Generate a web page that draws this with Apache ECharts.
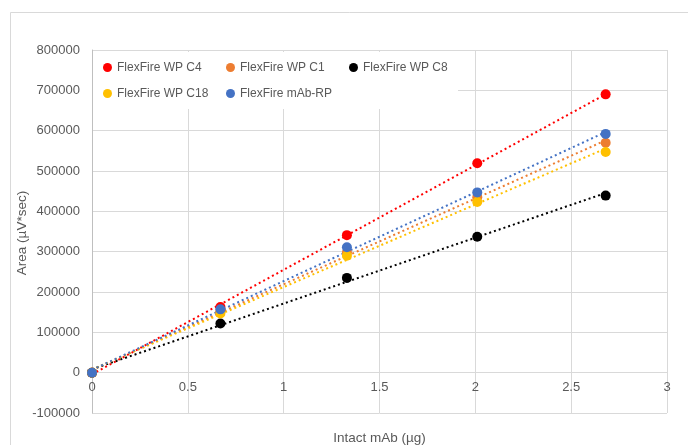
<!DOCTYPE html>
<html>
<head>
<meta charset="utf-8">
<script src="https://cdn.jsdelivr.net/npm/echarts@6/dist/echarts.min.js"></script>
<style>html,body{margin:0;padding:0;background:#fff}#c{width:688px;height:445px}</style>
</head>
<body>
<div id="c"></div>
<script>
const xValues = [0, 0.67, 1.33, 2.01, 2.68];
const seriesNames = ['FlexFire WP C4', 'FlexFire WP C1', 'FlexFire WP C8', 'FlexFire WP C18', 'FlexFire mAb-RP'];
const c4 = [0, 163000, 341000, 519000, 690000];
const c1 = [0, 152000, 298000, 435000, 570000];
const c8 = [0, 122000, 235000, 337000, 439000];
const c18 = [0, 147000, 290000, 423000, 547000];
const mabRP = [0, 157000, 311000, 447000, 592000];
const colors = ['#FF0000', '#ED7D31', '#000000', '#FFC000', '#4472C4'];
const yTicks = [-100000, 800000, 100000];
const xTicks = [0, 3, 0.5];
const xTitle = 'Intact mAb (µg)';
const yTitle = 'Area (µV*sec)';

const allValues = [c4, c1, c8, c18, mabRP];
const font = 'Liberation Sans';

const gridTop = 50, gridBottom = 32, H = 445;
const plotH = H - gridTop - gridBottom;
// shift the x axis up from the grid bottom to the y = 0 line
const xAxisOffset = -plotH * (0 - yTicks[0]) / (yTicks[1] - yTicks[0]);

function fit(xs, ys) {
  const n = xs.length;
  let sx = 0, sy = 0, sxx = 0, sxy = 0;
  for (let i = 0; i < n; i++) { sx += xs[i]; sy += ys[i]; sxx += xs[i]*xs[i]; sxy += xs[i]*ys[i]; }
  const b = (n*sxy - sx*sy) / (n*sxx - sx*sx);
  const a = (sy - b*sx) / n;
  return [a, b];
}

const series = [];
allValues.forEach((vals, i) => {
  const [a, b] = fit(xValues, vals);
  const x0 = xValues[0], x1 = xValues[xValues.length - 1];
  series.push({
    name: seriesNames[i] + ' trend',
    type: 'line',
    data: [[x0, a + b*x0], [x1, a + b*x1]],
    symbol: 'none',
    silent: true,
    z: 1,
    lineStyle: { color: colors[i], width: 2, type: [2, 3] }
  });
});
allValues.forEach((vals, i) => {
  series.push({
    name: seriesNames[i],
    type: 'scatter',
    data: xValues.map((x, j) => [x, vals[j]]),
    symbol: 'circle',
    symbolSize: 10,
    z: 3 + i,
    itemStyle: { color: colors[i], opacity: 1 }
  });
});

const legendData = seriesNames.map((n, i) => i === 2 ? { name: n, textStyle: { width: 85 } } : { name: n });

const chart = echarts.init(document.getElementById('c'), null, { renderer: 'canvas' });
chart.setOption({
  animation: false,
  backgroundColor: '#fff',
  graphic: [{
    type: 'rect',
    shape: { x: 10.5, y: 12.5, width: 700, height: 450 },
    style: { fill: 'none', stroke: '#d9d9d9', lineWidth: 1 },
    silent: true, z: -1
  }, {
    type: 'text',
    x: 22, y: 233,
    rotation: Math.PI / 2,
    style: { text: yTitle, fontFamily: font, fontSize: 13.5, fill: '#595959', align: 'center', verticalAlign: 'middle' },
    silent: true
  }],
  grid: { left: 92, right: 21, top: gridTop, bottom: gridBottom, containLabel: false, outerBoundsMode: 'none' },
  legend: {
    data: legendData,
    left: 93, top: 52,
    width: 375,
    padding: [7, 10, 7, 10],
    backgroundColor: '#ffffff',
    itemWidth: 9, itemHeight: 9,
    itemGap: 9,
    icon: 'circle',
    textStyle: { fontFamily: font, fontSize: 12, color: '#595959', width: 100, lineHeight: 17 }
  },
  xAxis: {
    type: 'value',
    position: 'bottom',
    offset: xAxisOffset,
    min: xTicks[0], max: xTicks[1], interval: xTicks[2],
    name: xTitle,
    nameLocation: 'middle',
    nameGap: 59,
    nameTextStyle: { fontFamily: font, fontSize: 13.5, color: '#595959' },
    axisLine: { onZero: false, lineStyle: { color: '#d9d9d9' } },
    axisTick: { show: false },
    axisLabel: { fontFamily: font, fontSize: 13, color: '#595959', margin: 8, formatter: v => String(v) },
    splitLine: { show: true, lineStyle: { color: '#d9d9d9' } }
  },
  yAxis: {
    type: 'value',
    min: yTicks[0], max: yTicks[1], interval: yTicks[2],
    axisLine: { show: true, onZero: false, lineStyle: { color: '#bfbfbf' } },
    axisTick: { show: false },
    axisLabel: { fontFamily: font, fontSize: 13, color: '#595959', margin: 12, formatter: v => String(v) },
    splitLine: { show: true, lineStyle: { color: '#d9d9d9' } }
  },
  series: series
});
</script>
</body>
</html>
